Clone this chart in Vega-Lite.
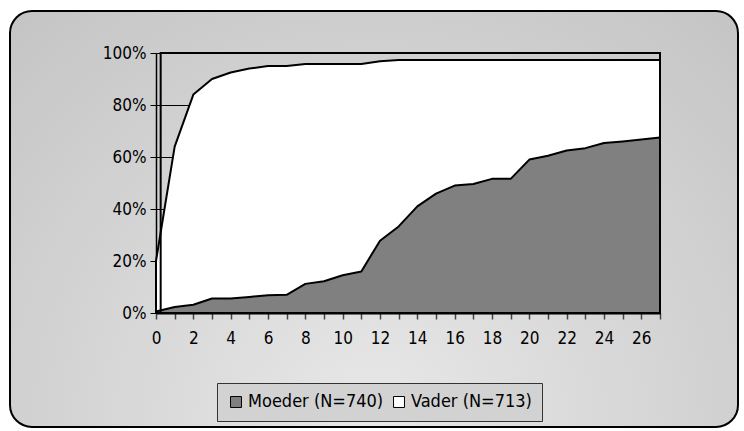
{
  "$schema": "https://vega.github.io/schema/vega-lite/v6.json",
  "width": 728,
  "height": 416,
  "autosize": {"type": "none"},
  "padding": {"left": 10, "top": 11, "right": 6, "bottom": 4},
  "background": "white",
  "config": {
    "font": "DejaVu Sans Condensed",
    "view": {
      "fill": {
        "gradient": "radial",
        "x1": 0.5, "y1": 0.78, "r1": 0,
        "x2": 0.5, "y2": 0.78, "r2": 0.8,
        "stops": [
          {"offset": 0, "color": "#e8e8e8"},
          {"offset": 1, "color": "#c2c2c2"}
        ]
      },
      "stroke": "black",
      "strokeWidth": 2,
      "cornerRadius": 22
    },
    "axis": {
      "labelFont": "DejaVu Sans Condensed",
      "labelFontSize": 17,
      "labelColor": "black",
      "title": null
    },
    "legend": {
      "orient": "none",
      "legendX": 207,
      "legendY": 372,
      "direction": "horizontal",
      "title": null,
      "symbolType": "square",
      "symbolSize": 120,
      "symbolStrokeColor": "black",
      "symbolStrokeWidth": 1,
      "labelFont": "DejaVu Sans Condensed",
      "labelFontSize": 18,
      "labelColor": "black",
      "labelOffset": 3,
      "columnPadding": 6,
      "strokeColor": "#333333",
      "fillColor": "#d2d2d2",
      "padding": 10
    }
  },
  "datasets": {
    "reeksen": [
      {"jaar": 0, "reeks": "Vader (N=713)", "pct": 0.20},
      {"jaar": 1, "reeks": "Vader (N=713)", "pct": 0.64},
      {"jaar": 2, "reeks": "Vader (N=713)", "pct": 0.84},
      {"jaar": 3, "reeks": "Vader (N=713)", "pct": 0.90},
      {"jaar": 4, "reeks": "Vader (N=713)", "pct": 0.925},
      {"jaar": 5, "reeks": "Vader (N=713)", "pct": 0.94},
      {"jaar": 6, "reeks": "Vader (N=713)", "pct": 0.95},
      {"jaar": 7, "reeks": "Vader (N=713)", "pct": 0.95},
      {"jaar": 8, "reeks": "Vader (N=713)", "pct": 0.958},
      {"jaar": 9, "reeks": "Vader (N=713)", "pct": 0.958},
      {"jaar": 10, "reeks": "Vader (N=713)", "pct": 0.958},
      {"jaar": 11, "reeks": "Vader (N=713)", "pct": 0.958},
      {"jaar": 12, "reeks": "Vader (N=713)", "pct": 0.968},
      {"jaar": 13, "reeks": "Vader (N=713)", "pct": 0.973},
      {"jaar": 14, "reeks": "Vader (N=713)", "pct": 0.973},
      {"jaar": 15, "reeks": "Vader (N=713)", "pct": 0.973},
      {"jaar": 16, "reeks": "Vader (N=713)", "pct": 0.973},
      {"jaar": 17, "reeks": "Vader (N=713)", "pct": 0.973},
      {"jaar": 18, "reeks": "Vader (N=713)", "pct": 0.973},
      {"jaar": 19, "reeks": "Vader (N=713)", "pct": 0.973},
      {"jaar": 20, "reeks": "Vader (N=713)", "pct": 0.973},
      {"jaar": 21, "reeks": "Vader (N=713)", "pct": 0.973},
      {"jaar": 22, "reeks": "Vader (N=713)", "pct": 0.973},
      {"jaar": 23, "reeks": "Vader (N=713)", "pct": 0.973},
      {"jaar": 24, "reeks": "Vader (N=713)", "pct": 0.973},
      {"jaar": 25, "reeks": "Vader (N=713)", "pct": 0.973},
      {"jaar": 26, "reeks": "Vader (N=713)", "pct": 0.973},
      {"jaar": 27, "reeks": "Vader (N=713)", "pct": 0.973},
      {"jaar": 0, "reeks": "Moeder (N=740)", "pct": 0.006},
      {"jaar": 1, "reeks": "Moeder (N=740)", "pct": 0.023},
      {"jaar": 2, "reeks": "Moeder (N=740)", "pct": 0.032},
      {"jaar": 3, "reeks": "Moeder (N=740)", "pct": 0.056},
      {"jaar": 4, "reeks": "Moeder (N=740)", "pct": 0.056},
      {"jaar": 5, "reeks": "Moeder (N=740)", "pct": 0.062},
      {"jaar": 6, "reeks": "Moeder (N=740)", "pct": 0.068},
      {"jaar": 7, "reeks": "Moeder (N=740)", "pct": 0.070},
      {"jaar": 8, "reeks": "Moeder (N=740)", "pct": 0.112},
      {"jaar": 9, "reeks": "Moeder (N=740)", "pct": 0.122},
      {"jaar": 10, "reeks": "Moeder (N=740)", "pct": 0.145},
      {"jaar": 11, "reeks": "Moeder (N=740)", "pct": 0.160},
      {"jaar": 12, "reeks": "Moeder (N=740)", "pct": 0.278},
      {"jaar": 13, "reeks": "Moeder (N=740)", "pct": 0.333},
      {"jaar": 14, "reeks": "Moeder (N=740)", "pct": 0.410},
      {"jaar": 15, "reeks": "Moeder (N=740)", "pct": 0.459},
      {"jaar": 16, "reeks": "Moeder (N=740)", "pct": 0.490},
      {"jaar": 17, "reeks": "Moeder (N=740)", "pct": 0.496},
      {"jaar": 18, "reeks": "Moeder (N=740)", "pct": 0.516},
      {"jaar": 19, "reeks": "Moeder (N=740)", "pct": 0.516},
      {"jaar": 20, "reeks": "Moeder (N=740)", "pct": 0.590},
      {"jaar": 21, "reeks": "Moeder (N=740)", "pct": 0.605},
      {"jaar": 22, "reeks": "Moeder (N=740)", "pct": 0.625},
      {"jaar": 23, "reeks": "Moeder (N=740)", "pct": 0.634},
      {"jaar": 24, "reeks": "Moeder (N=740)", "pct": 0.654},
      {"jaar": 25, "reeks": "Moeder (N=740)", "pct": 0.660},
      {"jaar": 26, "reeks": "Moeder (N=740)", "pct": 0.667},
      {"jaar": 27, "reeks": "Moeder (N=740)", "pct": 0.675}
    ],
    "totaal": [
      {"jaar": 0.25, "pct": 1},
      {"jaar": 27, "pct": 1}
    ]
  },
  "encoding": {
    "x": {
      "field": "jaar",
      "type": "quantitative",
      "scale": {"domain": [0, 27], "range": [146, 650], "nice": false, "zero": false},
      "axis": {
        "values": [0, 1, 2, 3, 4, 5, 6, 7, 8, 9, 10, 11, 12, 13, 14, 15, 16, 17, 18, 19, 20, 21, 22, 23, 24, 25, 26, 27],
        "labelExpr": "datum.value % 2 === 0 ? datum.label : ''",
        "offset": -114,
        "grid": false,
        "domainColor": "black",
        "domainWidth": 2,
        "tickColor": "#444444",
        "tickWidth": 1.5,
        "tickSize": 6,
        "labelPadding": 11,
        "labelFlush": false,
        "labelOverlap": false
      }
    },
    "y": {
      "field": "pct",
      "type": "quantitative",
      "stack": null,
      "scale": {"domain": [0, 1], "range": [302, 42], "nice": false},
      "axis": {
        "values": [0, 0.2, 0.4, 0.6, 0.8, 1],
        "format": ".0%",
        "offset": -146,
        "grid": true,
        "gridColor": "black",
        "gridWidth": 1,
        "domainColor": "black",
        "domainWidth": 1.5,
        "tickColor": "black",
        "tickSize": 6,
        "labelPadding": 4
      }
    }
  },
  "layer": [
    {
      "data": {"name": "reeksen"},
      "transform": [{"filter": "datum.reeks === 'Vader (N=713)'"}],
      "mark": {"type": "area", "stroke": "black", "strokeWidth": 2, "strokeJoin": "round"},
      "encoding": {
        "color": {
          "field": "reeks",
          "type": "nominal",
          "scale": {"domain": ["Moeder (N=740)", "Vader (N=713)"], "range": ["#808080", "#ffffff"]}
        }
      }
    },
    {
      "data": {"name": "reeksen"},
      "transform": [{"filter": "datum.reeks === 'Moeder (N=740)'"}],
      "mark": {"type": "area", "stroke": "black", "strokeWidth": 2, "strokeJoin": "round"},
      "encoding": {
        "color": {"field": "reeks", "type": "nominal"}
      }
    },
    {
      "data": {"name": "totaal"},
      "mark": {"type": "area", "fillOpacity": 0, "stroke": "black", "strokeWidth": 2},
      "encoding": {}
    }
  ]
}
